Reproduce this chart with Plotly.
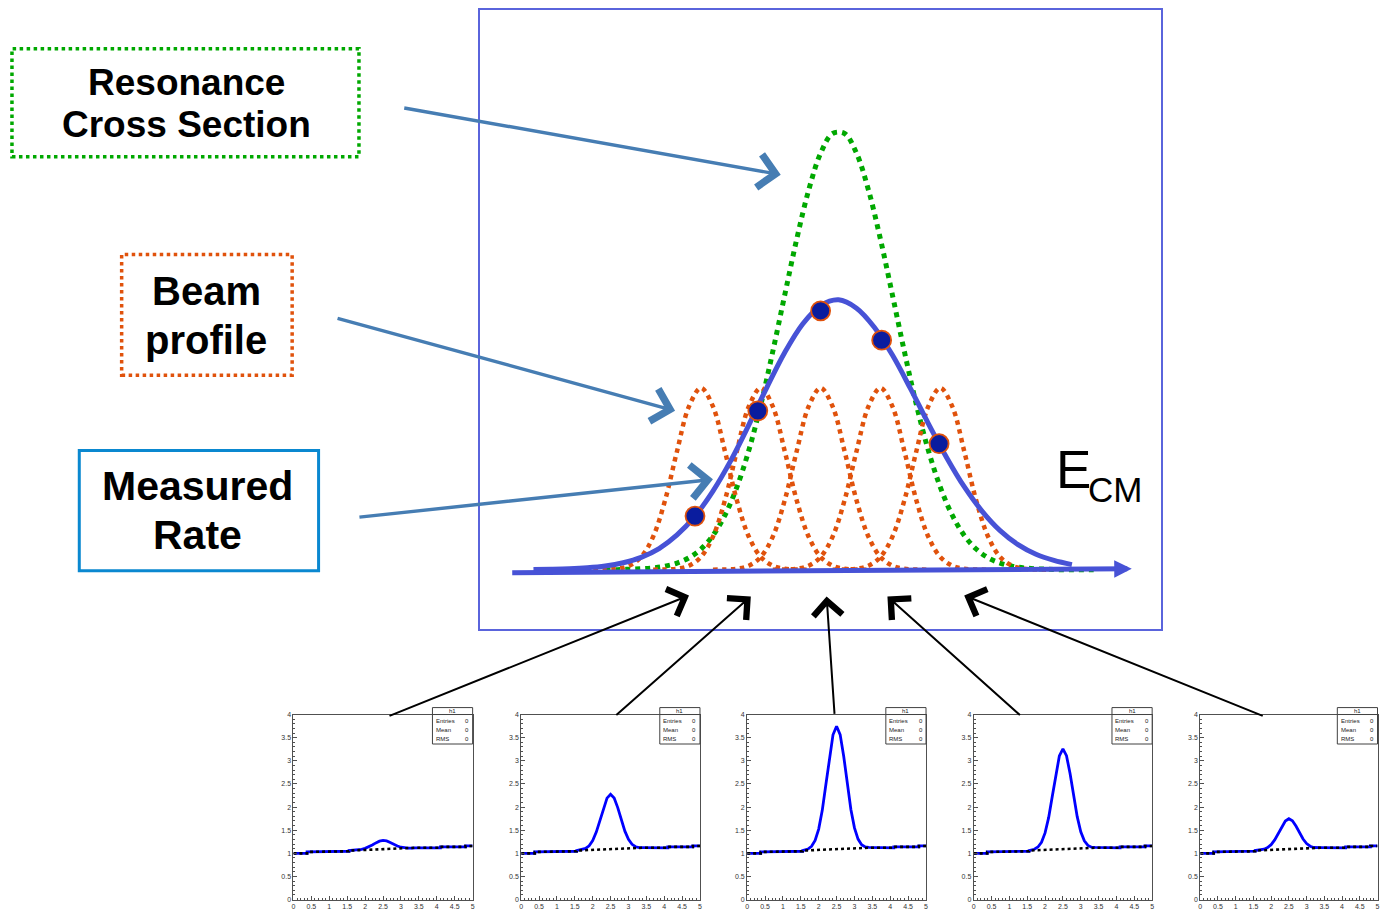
import plotly.graph_objects as go

W, H = 1383, 916

# ---------------- main panel data (E in arbitrary units, rate relative to resonance peak) -------------
res_E = [-0.6, -0.4, -0.2, 0.0, 0.2, 0.4, 0.6, 0.8, 1.0, 1.2, 1.4, 1.6, 1.8, 2.0, 2.2, 2.4, 2.6, 2.8,
         3.0, 3.2, 3.4, 3.6, 3.8, 4.0, 4.2, 4.4, 4.6, 4.8, 5.0, 5.2, 5.4, 5.6, 5.8, 6.0, 6.2, 6.4,
         6.6, 6.8, 7.0, 7.2, 7.4, 7.6]
res_sigma = [0, 0, 0.001, 0.002, 0.004, 0.008, 0.015, 0.027, 0.047, 0.078, 0.124, 0.188, 0.272, 0.376,
             0.497, 0.626, 0.753, 0.865, 0.949, 0.994, 0.994, 0.949, 0.865, 0.753, 0.626, 0.497, 0.376,
             0.272, 0.188, 0.124, 0.078, 0.047, 0.027, 0.015, 0.008, 0.004, 0.002, 0.001, 0, 0, 0, 0]

rate_E = [-1.8, -1.5, -1.2, -0.9, -0.6, -0.3, 0.0, 0.3, 0.6, 0.9, 1.2, 1.5, 1.8, 2.1, 2.4, 2.7, 3.0,
          3.3, 3.6, 3.9, 4.2, 4.5, 4.8, 5.1, 5.4, 5.7, 6.0, 6.3, 6.6, 6.9, 7.2]
rate_val = [0.0004, 0.0009, 0.0019, 0.0041, 0.0082, 0.0157, 0.028, 0.048, 0.079, 0.122, 0.179, 0.249,
            0.330, 0.415, 0.495, 0.560, 0.602, 0.615, 0.596, 0.552, 0.489, 0.413, 0.333, 0.257, 0.189,
            0.133, 0.089, 0.057, 0.035, 0.021, 0.0115]

beam_offset = [-1.8, -1.6, -1.4, -1.2, -1.0, -0.8, -0.6, -0.4, -0.2, 0.0, 0.2, 0.4, 0.6, 0.8, 1.0,
               1.2, 1.4, 1.6, 1.8]
beam_profile = [0, 0.0004, 0.002, 0.009, 0.029, 0.075, 0.158, 0.270, 0.372, 0.414, 0.372, 0.270,
                0.158, 0.075, 0.029, 0.009, 0.002, 0.0004, 0]
beam_centers = [1.0, 2.0, 3.0, 4.0, 5.0]

meas_E = [0.9, 1.95, 3.0, 4.02, 4.98]
meas_rate = [0.122, 0.362, 0.590, 0.523, 0.287]

axis_E = [-2.18, 8.2]
axis_y = [-0.007, 0.002]

# ---------------- small histogram panels ----------------
hist_x = [0, 0.38, 0.38, 1.0, 1.0, 1.55, 1.55, 1.7, 1.8, 1.9, 2.0, 2.1, 2.2, 2.3, 2.4, 2.5, 2.6, 2.7,
          2.8, 2.9, 3.0, 3.1, 3.2, 3.3, 3.4, 4.1, 4.1, 4.8, 4.8, 5.0]
hist_vals = [
    [1.00, 1.00, 1.03, 1.03, 1.045, 1.045, 1.06, 1.067, 1.076, 1.087, 1.107, 1.139, 1.180, 1.226, 1.262,
     1.278, 1.267, 1.236, 1.195, 1.159, 1.132, 1.118, 1.112, 1.112, 1.12, 1.12, 1.14, 1.14, 1.16, 1.16],
    [1.00, 1.00, 1.03, 1.03, 1.045, 1.045, 1.06, 1.078, 1.106, 1.164, 1.276, 1.459, 1.707, 1.978, 2.193,
     2.278, 2.198, 1.988, 1.722, 1.479, 1.301, 1.195, 1.142, 1.123, 1.124, 1.12, 1.14, 1.14, 1.16, 1.16],
    [1.00, 1.00, 1.03, 1.03, 1.045, 1.045, 1.06, 1.093, 1.151, 1.277, 1.525, 1.929, 2.482, 3.083, 3.561,
     3.748, 3.566, 3.093, 2.497, 1.949, 1.550, 1.308, 1.187, 1.138, 1.128, 1.12, 1.14, 1.14, 1.16, 1.16],
    [1.00, 1.00, 1.03, 1.03, 1.045, 1.045, 1.06, 1.088, 1.136, 1.239, 1.442, 1.772, 2.224, 2.715, 3.105,
     3.258, 3.110, 2.725, 2.239, 1.792, 1.467, 1.270, 1.172, 1.133, 1.127, 1.12, 1.14, 1.14, 1.16, 1.16],
    [1.00, 1.00, 1.03, 1.03, 1.045, 1.045, 1.06, 1.072, 1.090, 1.123, 1.187, 1.289, 1.428, 1.579, 1.699,
     1.748, 1.704, 1.589, 1.443, 1.309, 1.212, 1.154, 1.126, 1.117, 1.122, 1.12, 1.14, 1.14, 1.16, 1.16],
]
bg_x = [0, 0.38, 0.38, 1.0, 1.0, 1.55, 1.55, 2.0, 2.5, 3.0, 3.4, 4.1, 4.1, 4.8, 4.8, 5.0]
bg_y = [1.00, 1.00, 1.03, 1.03, 1.045, 1.045, 1.06, 1.075, 1.088, 1.10, 1.12, 1.12, 1.14, 1.14, 1.16, 1.16]

stat_labels = ["Entries", "Mean", "RMS"]
stat_values = ["0", "0", "0"]

# ---------------- texts ----------------
box_texts = [["Resonance", "Cross Section"], ["Beam", "profile"], ["Measured", "Rate"]]

# ---------------- colours ----------------
C_BLUE = "#4752d6"
C_ORANGE = "#e0520c"
C_GREEN = "#00a800"
C_ARROW = "#467db3"
C_BOXBLUE = "#0a88d0"
FONT = "Liberation Sans, Arial, sans-serif"

fig = go.Figure()

# main panel traces
fig.add_trace(go.Scatter(x=res_E, y=res_sigma, mode="lines", xaxis="x", yaxis="y",
                         line=dict(color=C_GREEN, width=5, dash="dot", shape="spline")))
for c in beam_centers:
    fig.add_trace(go.Scatter(x=[c + o for o in beam_offset], y=beam_profile, mode="lines",
                             xaxis="x", yaxis="y",
                             line=dict(color=C_ORANGE, width=4.5, dash="dot", shape="spline")))
fig.add_trace(go.Scatter(x=rate_E, y=rate_val, mode="lines", xaxis="x", yaxis="y",
                         line=dict(color=C_BLUE, width=5, shape="spline")))
fig.add_trace(go.Scatter(x=meas_E, y=meas_rate, mode="markers", xaxis="x", yaxis="y",
                         marker=dict(size=19, color="#0a1c9e", line=dict(color=C_ORANGE, width=1.8))))

# small panels
L = [292.3, 520.7, 747.3, 974.5, 1201.7]
R = [472.0, 700.0, 926.7, 1153.5, 1379.5]
TOP, BOT = 716.0, 902.5

layout_axes = {}
layout_axes["xaxis"] = dict(domain=[479 / W, 1162 / W], range=[-2.7, 8.683], showgrid=False,
                            zeroline=False, showticklabels=False, ticks="", showline=True,
                            mirror=True, linecolor="#5a64dc", linewidth=1.6, fixedrange=True)
layout_axes["yaxis"] = dict(domain=[1 - 630 / H, 1 - 6.5 / H], range=[-0.1357, 1.2745], showgrid=False,
                            zeroline=False, showticklabels=False, ticks="", showline=True,
                            mirror=True, linecolor="#5a64dc", linewidth=1.6, fixedrange=True)

shapes = []
annotations = []

for i in range(5):
    xa = "x%d" % (i + 2)
    ya = "y%d" % (i + 2)
    fig.add_trace(go.Scatter(x=hist_x, y=hist_vals[i], mode="lines", xaxis=xa, yaxis=ya,
                             line=dict(color="#0000ff", width=2.8)))
    fig.add_trace(go.Scatter(x=bg_x, y=bg_y, mode="lines", xaxis=xa, yaxis=ya,
                             line=dict(color="#000000", width=2.6, dash="dot")))
    common = dict(showgrid=False, zeroline=False, showline=True, mirror=True, linecolor="#505050",
                  linewidth=1, ticks="inside", ticklen=4, tickcolor="#505050", tickwidth=1,
                  tickfont=dict(size=7, color="#333333", family=FONT), dtick=0.5,
                  minor=dict(dtick=0.1, ticks="inside", ticklen=2, tickcolor="#505050"),
                  fixedrange=True)
    layout_axes["xaxis%d" % (i + 2)] = dict(domain=[L[i] / W, R[i] / W], range=[0, 5], anchor=ya,
                                             tick0=0, **common)
    layout_axes["yaxis%d" % (i + 2)] = dict(domain=[1 - BOT / H, 1 - TOP / H], range=[0, 4], anchor=xa,
                                             tick0=0, **common)
    # stats box
    bx0, bx1, by0, by1 = R[i] - 40.3, R[i], 709.0, 745.7
    shapes.append(dict(type="rect", xref="paper", yref="paper", x0=bx0 / W, x1=bx1 / W,
                       y0=1 - by1 / H, y1=1 - by0 / H, line=dict(color="#404040", width=1),
                       fillcolor="white", layer="above"))
    shapes.append(dict(type="line", xref="paper", yref="paper", x0=bx0 / W, x1=bx1 / W,
                       y0=1 - 716 / H, y1=1 - 716 / H, line=dict(color="#404040", width=1)))
    annotations.append(dict(xref="paper", yref="paper", x=(bx0 + bx1) / 2 / W, y=1 - 712.4 / H,
                            text="h1", showarrow=False, xanchor="center", yanchor="middle",
                            font=dict(size=6, family=FONT, color="#222")))
    for k, (lab, val) in enumerate(zip(stat_labels, stat_values)):
        yy = 722.6 + k * 8.8
        annotations.append(dict(xref="paper", yref="paper", x=(bx0 + 1.5) / W, y=1 - yy / H,
                                text=lab, showarrow=False, xanchor="left", yanchor="middle",
                                font=dict(size=6, family=FONT, color="#222")))
        annotations.append(dict(xref="paper", yref="paper", x=(bx1 - 1.5) / W, y=1 - yy / H,
                                text=val, showarrow=False, xanchor="right", yanchor="middle",
                                font=dict(size=6, family=FONT, color="#222")))

# text boxes
shapes.append(dict(type="rect", xref="paper", yref="paper", x0=10 / W, x1=358 / W,
                   y0=1 - 154 / H, y1=1 - 45 / H, line=dict(color=C_GREEN, width=3.5, dash="dot")))
shapes.append(dict(type="rect", xref="paper", yref="paper", x0=120 / W, x1=291 / W,
                   y0=1 - 374 / H, y1=1 - 252.5 / H, line=dict(color=C_ORANGE, width=3.5, dash="dot")))
shapes.append(dict(type="rect", xref="paper", yref="paper", x0=77.5 / W, x1=317.5 / W,
                   y0=1 - 571 / H, y1=1 - 450 / H, line=dict(color=C_BOXBLUE, width=3)))

text_pos = [[(185, 79, 37), (185, 121, 37)],
            [(205, 289, 40), (205, 339, 40)],
            [(196, 486, 41), (196, 535, 41)]]
for lines, poss in zip(box_texts, text_pos):
    for t, (px, py, fs) in zip(lines, poss):
        annotations.append(dict(xref="paper", yref="paper", x=px / W, y=1 - py / H,
                                text="<b>%s</b>" % t, showarrow=False, xanchor="center",
                                yanchor="middle", font=dict(size=fs, family=FONT, color="black")))

# E_CM label
annotations.append(dict(xref="paper", yref="paper", x=1055.5 / W, y=1 - 469 / H, text="E",
                        showarrow=False, xanchor="left", yanchor="middle",
                        font=dict(size=53, family=FONT, color="black")))
annotations.append(dict(xref="paper", yref="paper", x=1087 / W, y=1 - 489.5 / H, text="CM",
                        showarrow=False, xanchor="left", yanchor="middle",
                        font=dict(size=35, family=FONT, color="black")))

# energy axis arrow (data coordinates)
annotations.append(dict(xref="x", yref="y", axref="x", ayref="y", x=axis_E[1], y=axis_y[1],
                        ax=axis_E[0], ay=axis_y[0], text="", showarrow=True, arrowhead=2,
                        arrowsize=0.7, arrowwidth=5, arrowcolor=C_BLUE, standoff=0))


def arrow(tail, tip, color, width, head, size):
    return dict(xref="paper", yref="paper", x=tip[0] / W, y=1 - tip[1] / H,
                ax=tail[0] - tip[0], ay=tail[1] - tip[1], axref="pixel", ayref="pixel",
                text="", showarrow=True, arrowhead=head, arrowsize=size, arrowwidth=width,
                arrowcolor=color, standoff=0)


blue_arrows = [((403, 105), (781, 172)), ((336, 317), (675, 410)), ((358, 517), (713, 479))]
for tail, tip in blue_arrows:
    annotations.append(arrow(tail, tip, C_ARROW, 3.4, 4, 1.9))

black_arrows = [((388, 717), (689, 596)), ((615, 717), (751, 597)), ((835, 716), (827, 597)),
                ((1022, 717), (888, 597)), ((1265, 717), (965, 596))]
for tail, tip in black_arrows:
    annotations.append(arrow(tail, tip, "black", 2, 4, 2.8))

fig.update_layout(width=W, height=H, margin=dict(l=0, r=0, t=0, b=0), showlegend=False,
                  paper_bgcolor="white", plot_bgcolor="white", shapes=shapes,
                  annotations=annotations, **layout_axes)

fig.write_html("out.html")
